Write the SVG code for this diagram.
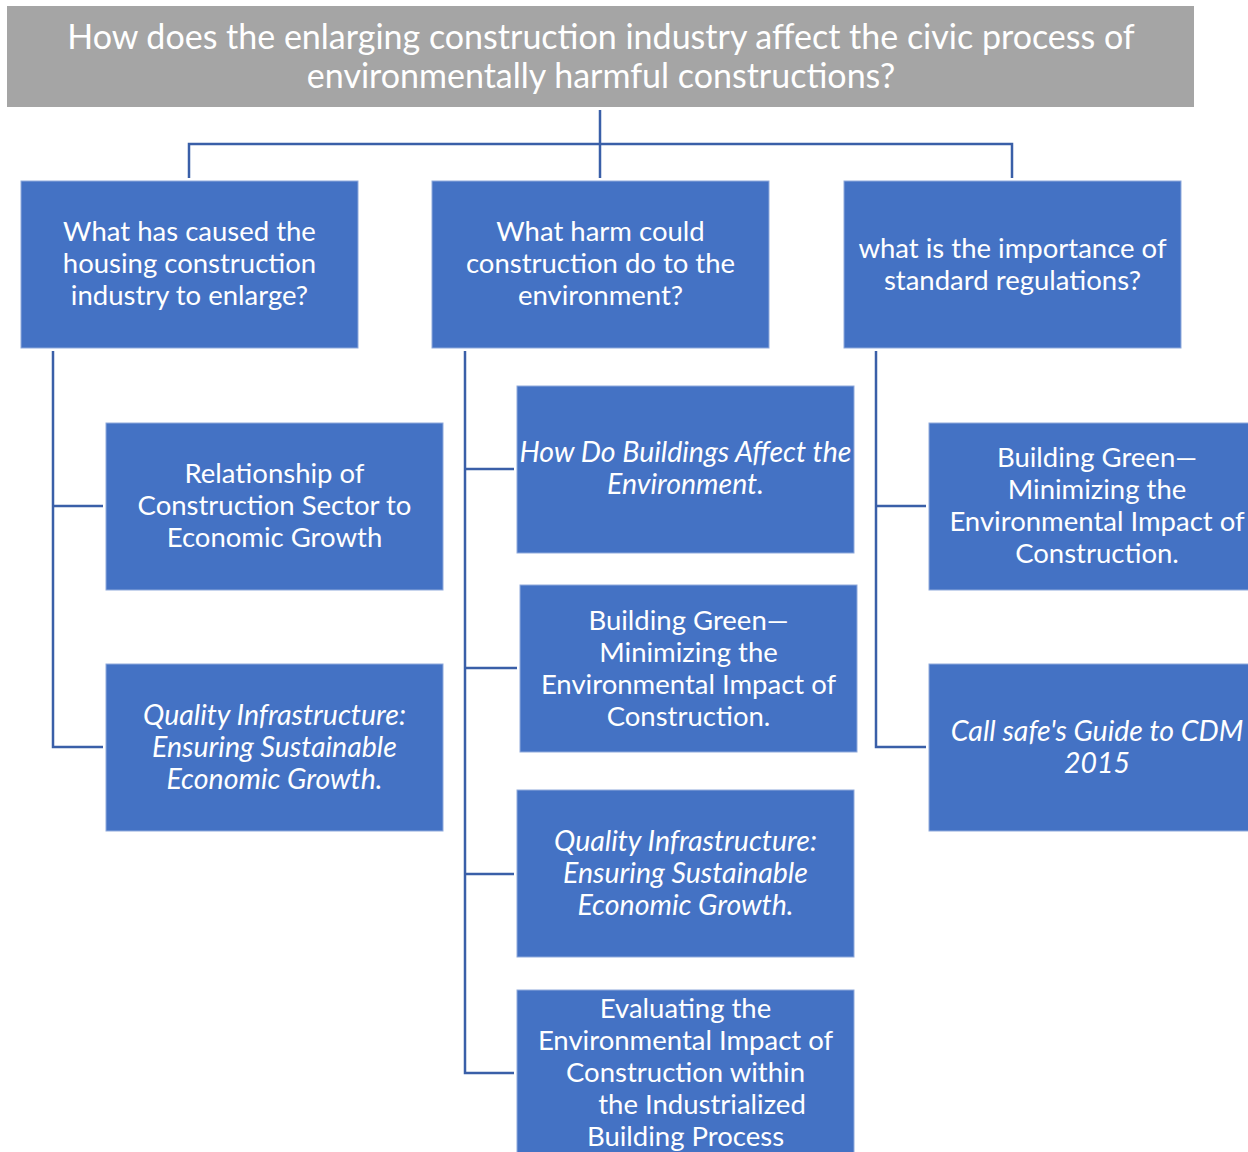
<svg xmlns="http://www.w3.org/2000/svg" width="1248" height="1152" viewBox="0 0 1248 1152">
<style>
.bg{fill:#ffffff}
.title{fill:#A5A5A5}
.box{fill:#4472C4;stroke:#8FAADC;stroke-width:1}
.t{font-family:Lato,"Open Sans","Liberation Sans",sans-serif;fill:#ffffff;text-anchor:middle;font-size:27.5px}
.tt{font-size:34px}
.i{font-style:italic;font-size:28.5px}
.c{fill:none;stroke:#3A5FA8;stroke-width:2.5}
</style>
<rect class="bg" x="0" y="0" width="1248" height="1152"/>
<g id="connectors">
<path class="c" d="M600,110 V178 M189,178 V144 H1012 V178"/>
<path class="c" d="M53,351 V747 H103 M53,506 H103"/>
<path class="c" d="M465,351 V1073 H514 M465,469 H514 M465,668 H517 M465,874 H514"/>
<path class="c" d="M876,351 V747 H926 M876,506 H926"/>
</g>
<g id="root">
<rect class="title" x="7" y="6" width="1187" height="101"/>
<text class="t tt" x="601" y="49">How does the enlarging construction industry affect the civic process of</text>
<text class="t tt" x="601" y="88">environmentally harmful constructions?</text>
</g>
<g id="q1">
<rect class="box" x="21" y="181" width="337" height="167"/>
<text class="t" x="189.5" y="241">What has caused the</text>
<text class="t" x="189.5" y="273">housing construction</text>
<text class="t" x="189.5" y="305">industry to enlarge?</text>
</g>
<g id="q2">
<rect class="box" x="432" y="181" width="337" height="167"/>
<text class="t" x="600.5" y="241">What harm could</text>
<text class="t" x="600.5" y="273">construction do to the</text>
<text class="t" x="600.5" y="305">environment?</text>
</g>
<g id="q3">
<rect class="box" x="844" y="181" width="337" height="167"/>
<text class="t" x="1012.5" y="258">what is the importance of</text>
<text class="t" x="1012.5" y="290">standard regulations?</text>
</g>
<g id="l1">
<rect class="box" x="106" y="423" width="337" height="167"/>
<text class="t" x="274.5" y="483">Relationship of</text>
<text class="t" x="274.5" y="515">Construction Sector to</text>
<text class="t" x="274.5" y="547">Economic Growth</text>
</g>
<g id="l2">
<rect class="box" x="106" y="664" width="337" height="167"/>
<text class="t i" x="274.5" y="725">Quality Infrastructure:</text>
<text class="t i" x="274.5" y="757">Ensuring Sustainable</text>
<text class="t i" x="274.5" y="789">Economic Growth.</text>
</g>
<g id="m1">
<rect class="box" x="517" y="386" width="337" height="167"/>
<text class="t i" x="685.5" y="462">How Do Buildings Affect the</text>
<text class="t i" x="685.5" y="494">Environment.</text>
</g>
<g id="m2">
<rect class="box" x="520" y="585" width="337" height="167"/>
<text class="t" x="688.5" y="630">Building Green—</text>
<text class="t" x="688.5" y="662">Minimizing the</text>
<text class="t" x="688.5" y="694">Environmental Impact of</text>
<text class="t" x="688.5" y="726">Construction.</text>
</g>
<g id="m3">
<rect class="box" x="517" y="790" width="337" height="167"/>
<text class="t i" x="685.5" y="851">Quality Infrastructure:</text>
<text class="t i" x="685.5" y="883">Ensuring Sustainable</text>
<text class="t i" x="685.5" y="915">Economic Growth.</text>
</g>
<g id="m4">
<rect class="box" x="517" y="990" width="337" height="170"/>
<text class="t" x="685.5" y="1018">Evaluating the</text>
<text class="t" x="685.5" y="1050">Environmental Impact of</text>
<text class="t" x="685.5" y="1082">Construction within</text>
<text class="t" x="702" y="1114">the Industrialized</text>
<text class="t" x="685.5" y="1146">Building Process</text>
</g>
<g id="r1">
<rect class="box" x="929" y="423" width="337" height="167"/>
<text class="t" x="1097" y="467">Building Green—</text>
<text class="t" x="1097" y="499">Minimizing the</text>
<text class="t" x="1097" y="531">Environmental Impact of</text>
<text class="t" x="1097" y="563">Construction.</text>
</g>
<g id="r2">
<rect class="box" x="929" y="664" width="337" height="167"/>
<text class="t i" x="1097" y="741">Call safe's Guide to CDM</text>
<text class="t i" x="1097" y="773">2015</text>
</g>
</svg>
